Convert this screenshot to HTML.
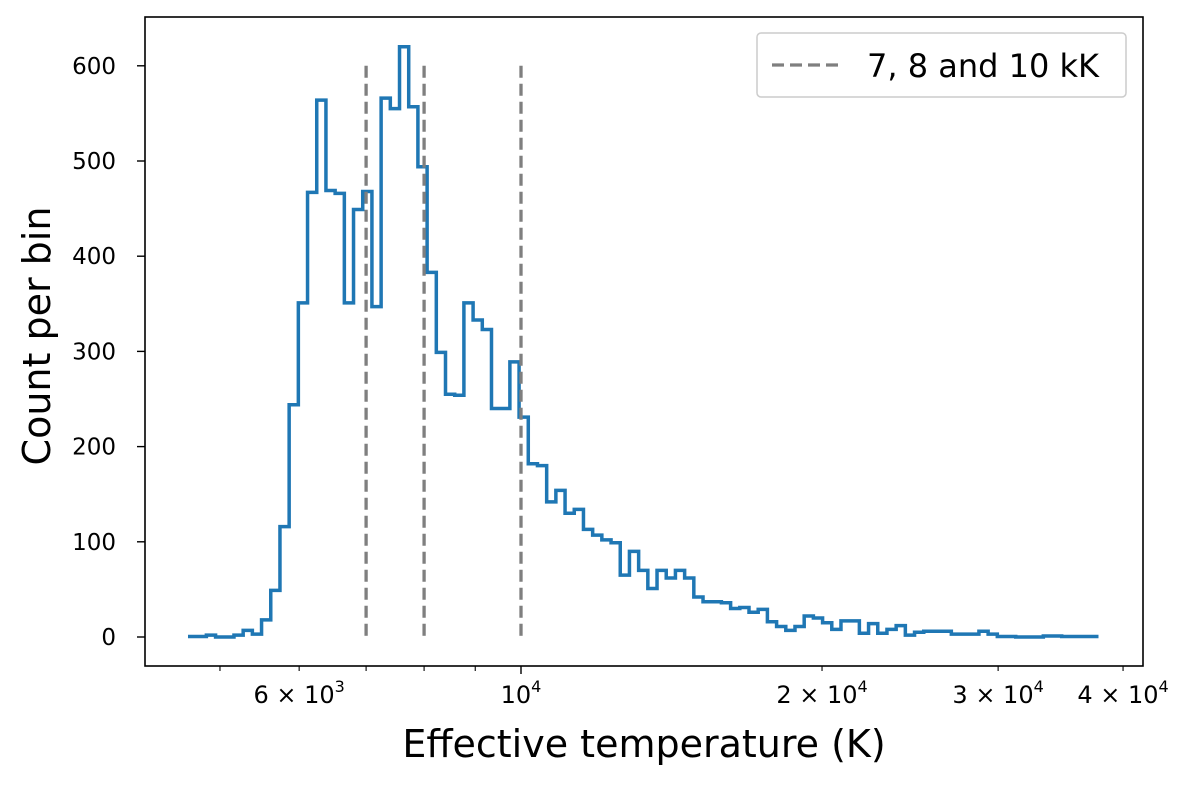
<!DOCTYPE html>
<html><head><meta charset="utf-8"><style>
body{margin:0;background:#fff;}
svg text{font-family:"DejaVu Sans","Liberation Sans",sans-serif;fill:#000;}
</style></head><body>
<svg id="chart" width="1200" height="785" xmlns="http://www.w3.org/2000/svg">
<rect width="1200" height="785" fill="#fff"/>
<g id="g"></g>
</svg>
<script>
const binStartT = 4645;
const binEndT = 37800;
const counts = [0.5,0.5,2,0,0,2,7,3,18,49,116,244,351,467,564,469,466,351,449,468,347,566,555,620,557,494,383,299,255,254,351,333,323,240,240,289,231,182,180,142,154,130,134,113,107,102,99,65,90,70,51,70,62,70,62,42,37,37,36,30,31,26,29,16,11,7,11,22,20,15,8,17,17,4,14,4,8,12,2,5,6,6,6,3,3,3,6,3,0.5,0.5,0,0,0,1,1,0.5,0.5,0.5,0.5];
const yTicks = [0,100,200,300,400,500,600];
const majorXTicks = [10000];
const minorXTicks = [5000,6000,7000,8000,9000,20000,30000,40000];
const xTickLabels = {6000:["6","3"],10000:["","4"],20000:["2","4"],30000:["3","4"],40000:["4","4"]};
const refLines = [7000,8000,10000];
const refTop = 600;

const L=145,R=1143,T=17,B=666;
const x = t => 521 + 1000*(Math.log10(t)-4);
const y = v => 637 - v*0.952;
const NS="http://www.w3.org/2000/svg";
const g=document.getElementById('g');
function mk(tag,attrs,parent){const e=document.createElementNS(NS,tag);for(const k in attrs)e.setAttribute(k,attrs[k]);(parent||g).appendChild(e);return e;}

const n=counts.length;
const lo=Math.log10(binStartT), hi=Math.log10(binEndT);
let d="";
counts.forEach((c,i)=>{
  const x0=x(Math.pow(10,lo+(hi-lo)*i/n)), x1=x(Math.pow(10,lo+(hi-lo)*(i+1)/n));
  d += (i===0?"M":"L")+x0.toFixed(2)+","+y(c).toFixed(2)+"L"+x1.toFixed(2)+","+y(c).toFixed(2);
});
const hp=mk('path',{d:d,fill:'none',stroke:'#1f77b4','stroke-width':3.5,'stroke-linejoin':'miter'});



refLines.forEach(t=>{
  const l=mk('line',{x1:x(t),x2:x(t),y1:y(refTop),y2:y(0),stroke:'#7f7f7f','stroke-width':3.3,'stroke-dasharray':'12,6'});
  
  
});

const fr=mk('rect',{x:L,y:T,width:R-L,height:B-T,fill:'none',stroke:'#000','stroke-width':1.6});



yTicks.forEach(v=>{
  mk('line',{x1:L-8,x2:L,y1:y(v),y2:y(v),stroke:'#000','stroke-width':1.4});
  const t=mk('text',{x:L-29,y:y(v)+8,'text-anchor':'end','font-size':23});
  t.textContent=v;
  
  
});
majorXTicks.forEach(v=>mk('line',{x1:x(v),x2:x(v),y1:B,y2:B+8,stroke:'#000','stroke-width':1.4}));
minorXTicks.forEach(v=>mk('line',{x1:x(v),x2:x(v),y1:B,y2:B+5,stroke:'#000','stroke-width':1.1}));
Object.keys(xTickLabels).forEach(k=>{
  const [m,e]=xTickLabels[k];
  const t=mk('text',{x:x(+k),y:B+37,'text-anchor':'middle','font-size':24});
  const a=mk('tspan',{},t);a.textContent=m?(m+" \u00d7 10"):"10";
  const s=mk('tspan',{dy:-11,'font-size':16},t);s.textContent=e;
  
  
});

const xt=mk('text',{x:644,y:757,'text-anchor':'middle','font-size':38});
xt.textContent="Effective temperature (K)";


const yt=mk('text',{x:0,y:0,'text-anchor':'middle','font-size':38,transform:'translate(50,336) rotate(-90)'});
yt.textContent="Count per bin";



const lg=mk('g',{});


mk('rect',{x:757,y:33,width:369,height:64,rx:4,fill:'#fff',stroke:'#ccc','stroke-width':1.5},lg);
mk('line',{x1:772,x2:838,y1:65,y2:65,stroke:'#7f7f7f','stroke-width':3.3,'stroke-dasharray':'12,6'},lg);
const lt=mk('text',{x:867,y:77,'font-size':32},lg);
lt.textContent="7, 8 and 10 kK";


</script>
</body></html>
